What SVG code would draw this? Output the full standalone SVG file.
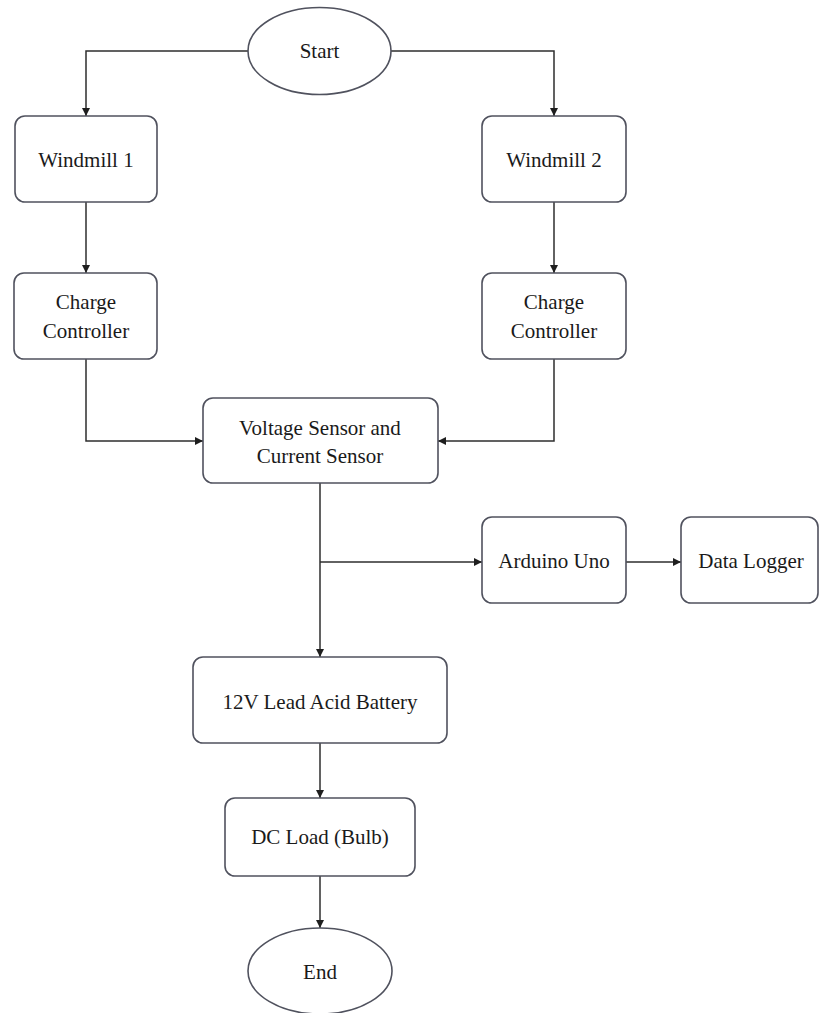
<svg xmlns="http://www.w3.org/2000/svg" width="819" height="1013" viewBox="0 0 819 1013">
<style>
.n{fill:#fff;stroke:#50525e;stroke-width:1.6}
.t{font-family:"Liberation Serif","Times New Roman",serif;font-size:21px;fill:#1a1a1a;text-anchor:middle;dominant-baseline:central}
.c{fill:none;stroke:#2e2e2e;stroke-width:1.5}
</style>
<defs>
<marker id="a" viewBox="0 0 10 10" refX="10" refY="5" markerWidth="8" markerHeight="8" markerUnits="userSpaceOnUse" orient="auto">
<path d="M0,0 L10,5 L0,10 z" fill="#1e1e1e"/>
</marker>
</defs>
<rect width="819" height="1013" fill="#fff"/>
<g id="connectors">
<path class="c" d="M248,51 H86 V116" marker-end="url(#a)"/>
<path class="c" d="M391,51 H554 V116" marker-end="url(#a)"/>
<path class="c" d="M86,202 V273" marker-end="url(#a)"/>
<path class="c" d="M554,202 V273" marker-end="url(#a)"/>
<path class="c" d="M86,359 V441 H203" marker-end="url(#a)"/>
<path class="c" d="M554,359 V441 H438" marker-end="url(#a)"/>
<path class="c" d="M320,483 V657" marker-end="url(#a)"/>
<path class="c" d="M320,562 H482" marker-end="url(#a)"/>
<path class="c" d="M626,562 H681" marker-end="url(#a)"/>
<path class="c" d="M320,743 V798" marker-end="url(#a)"/>
<path class="c" d="M320,876 V928" marker-end="url(#a)"/>
</g>
<g id="start"><ellipse class="n" cx="319.5" cy="51" rx="71.5" ry="43.5"/><text class="t" x="319.5" y="51">Start</text></g>
<g id="windmill1"><rect class="n" x="15" y="116" width="142" height="86" rx="10"/><text class="t" x="86" y="160">Windmill 1</text></g>
<g id="windmill2"><rect class="n" x="482" y="116" width="144" height="86" rx="10"/><text class="t" x="554" y="160">Windmill 2</text></g>
<g id="cc1"><rect class="n" x="14" y="273" width="143" height="86" rx="10"/><text class="t" x="86" y="302">Charge</text><text class="t" x="86" y="331">Controller</text></g>
<g id="cc2"><rect class="n" x="482" y="273" width="144" height="86" rx="10"/><text class="t" x="554" y="302">Charge</text><text class="t" x="554" y="331">Controller</text></g>
<g id="sensor"><rect class="n" x="203" y="398" width="235" height="85" rx="10"/><text class="t" x="320" y="428">Voltage Sensor and</text><text class="t" x="320" y="456">Current Sensor</text></g>
<g id="arduino"><rect class="n" x="482" y="517" width="144" height="86" rx="10"/><text class="t" x="554" y="561">Arduino Uno</text></g>
<g id="logger"><rect class="n" x="681" y="517" width="137" height="86" rx="10"/><text class="t" x="751" y="561">Data Logger</text></g>
<g id="battery"><rect class="n" x="193" y="657" width="254" height="86" rx="10"/><text class="t" x="320" y="702">12V Lead Acid Battery</text></g>
<g id="load"><rect class="n" x="225" y="798" width="190" height="78" rx="10"/><text class="t" x="320" y="837">DC Load (Bulb)</text></g>
<g id="end"><ellipse class="n" cx="320" cy="971" rx="72" ry="43"/><text class="t" x="320" y="972">End</text></g>
</svg>
